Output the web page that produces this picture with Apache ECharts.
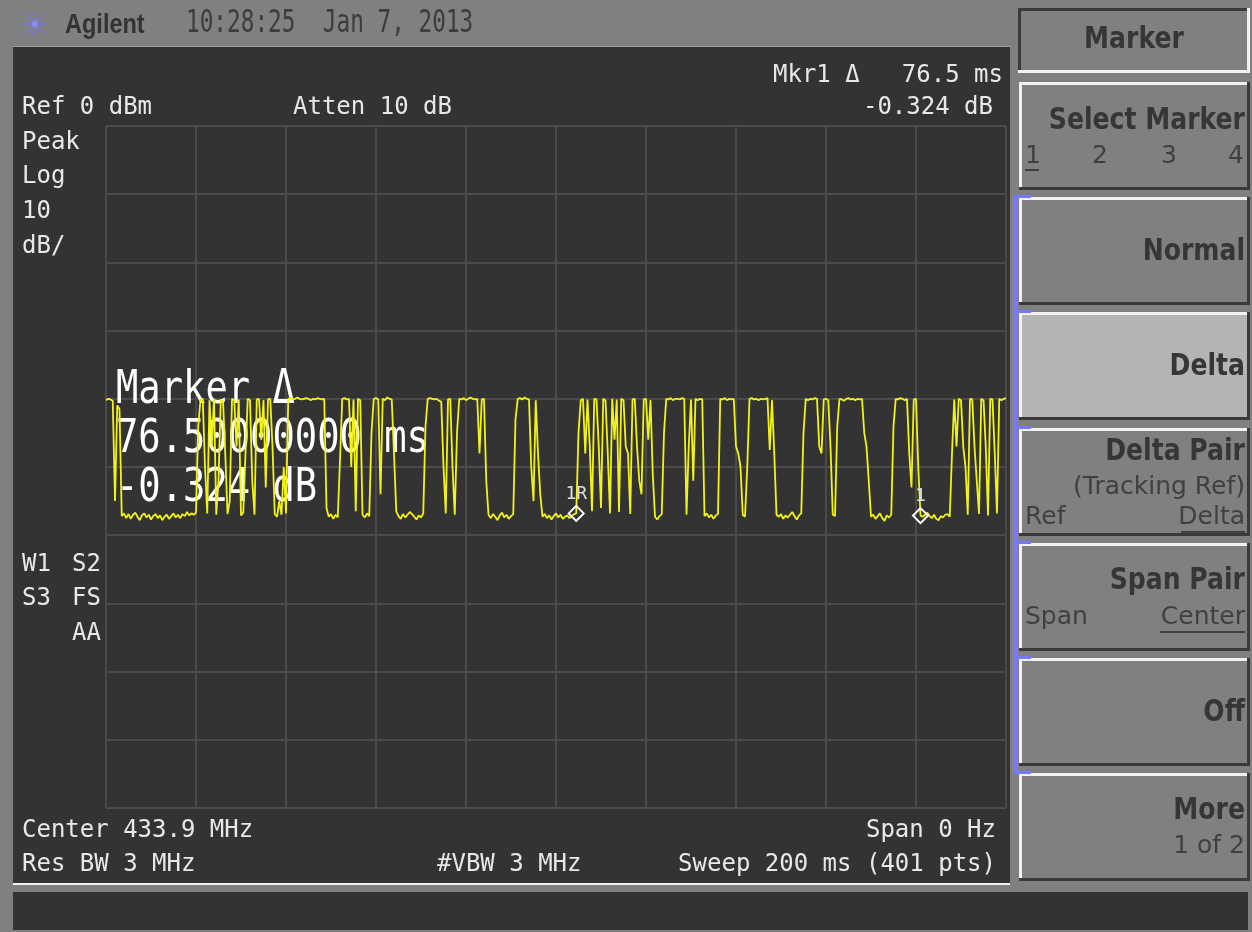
<!DOCTYPE html>
<html>
<head>
<meta charset="utf-8">
<title>Agilent zero-span sweep 433.9 MHz</title>
<script src="https://cdn.jsdelivr.net/npm/echarts@6/dist/echarts.min.js"></script>
<style>
  html, body { margin: 0; padding: 0; background: #808080; }
  #chart { width: 1252px; height: 932px; }
</style>
</head>
<body>
<div id="chart"></div>
<script>
// ---- Sweep settings ----
const sweepMs = 200;          // sweep time
const sweepPoints = 401;      // trace points
const refLevelDbm = 0;        // top graticule line
const dbPerDiv = 10;
const verticalDivs = 10;
const horizontalDivs = 10;

// ---- Trace amplitude at each sweep point (dBm) ----
const traceDbm = [
  -40.2, -40.0, -40.1, -40.3, -55.0, -41.0, -41.5,
  -57.2, -56.8, -57.5, -56.9, -57.6, -57.0, -56.7, -57.3, -57.8, -57.1, -56.8, -57.4, -57.0, -57.7, -57.2, -56.9, -57.5,
  -57.1, -57.8, -57.3, -57.0, -57.6, -57.2, -56.8, -57.4, -57.0, -57.5, -56.9, -57.2, -56.6, -57.1, -56.8, -57.0, -56.7,
  -44.0, -40.1, -40.0, -50.0, -56.8, -40.2, -47.0, -40.0, -57.0, -52.0, -40.1, -40.3, -48.0, -56.9, -55.0, -40.0, -40.2,
  -47.0, -40.1, -57.1, -56.7, -48.0, -40.0, -40.2, -52.0, -57.0, -40.1, -40.0, -46.0, -40.2, -53.0, -40.1, -40.0, -47.0,
  -56.9, -57.3, -55.0, -57.0, -50.0, -56.8,
  -40.0, -39.9, -40.1, -40.0, -39.8, -40.0, -40.1, -40.0, -39.9, -40.0, -40.2, -40.0, -40.1, -39.9, -40.0, -40.1, -40.0,
  -56.0, -57.3, -56.9, -57.6, -57.0, -57.4, -49.0, -40.0, -39.9, -40.1, -40.0,
  -50.0, -40.1, -56.5, -40.0, -40.2, -57.0, -57.4, -56.8, -57.2, -45.0, -40.0, -39.9, -40.1, -54.0,
  -40.0, -40.2, -39.8, -40.0, -40.1, -48.0, -56.5,
  -57.2, -57.6, -56.9, -57.4, -57.0, -56.6, -56.9, -57.3, -57.7, -57.1, -57.4, -56.8,
  -44.0, -40.0, -39.9, -40.0, -40.1, -40.0, -40.3, -40.4,
  -50.0, -56.8, -40.1, -40.0, -50.0, -57.0, -45.0,
  -40.0, -40.1, -39.9, -40.2, -40.0, -39.8, -40.0, -40.1, -40.0, -48.0, -40.1, -40.0, -52.0,
  -57.0, -57.5, -56.9, -57.3, -57.8, -57.1, -56.7, -57.4, -57.0, -57.6, -57.2, -56.9,
  -43.0, -40.0, -39.9, -40.1, -39.8, -40.0, -40.1, -50.0, -55.0, -40.2, -48.0, -54.0,
  -57.3, -56.9, -57.5, -57.1, -57.7, -57.2, -56.8, -57.4, -57.0, -57.6, -57.3, -57.1, -57.5, -57.2, -56.9,
  -56.8,
  -45.0, -40.2, -40.0, -48.0, -40.1, -47.0, -56.5, -40.0, -40.1, -47.0, -56.0, -40.0, -40.2, -48.0, -56.8, -40.0, -46.0,
  -40.1, -56.6, -40.0, -40.2, -47.0, -48.0, -56.9, -40.1, -40.0, -47.0, -52.0, -54.0, -40.1, -40.0, -46.0, -40.2, -51.0,
  -57.3, -57.7, -57.2, -56.9,
  -45.0, -40.0, -40.1, -39.9, -40.2, -40.0, -40.0, -40.1, -39.9, -40.0,
  -57.0, -47.0, -40.1, -52.0, -40.0, -40.2, -40.0, -40.1,
  -57.2, -56.8, -57.4, -57.0, -57.6, -57.1, -56.9,
  -40.0, -40.1, -39.9, -40.2, -40.0, -40.1, -40.0,
  -47.0, -48.0, -50.0, -57.0, -57.3, -50.0,
  -40.0, -39.9, -40.1, -40.0, -40.2, -40.0, -40.1, -40.0, -39.9,
  -47.5, -40.2, -48.0, -57.0,
  -57.3, -56.9, -57.6, -57.1, -57.4, -57.0, -56.6, -57.2, -57.7, -57.1, -56.8,
  -45.0, -40.0, -40.2, -40.0, -40.1, -39.9, -40.0, -47.0, -48.0, -40.1, -40.0, -40.2, -47.0, -57.0, -57.2, -44.0,
  -40.0, -40.1, -40.3, -40.0, -39.9, -40.1, -40.0, -40.2, -40.0, -40.1, -40.0,
  -45.0, -47.0, -52.0,
  -57.3, -57.0, -57.6, -57.2, -56.8, -57.5, -57.9, -57.1, -57.4, -57.0,
  -44.0, -40.0, -40.1, -39.9, -40.0, -40.2, -40.0, -48.0, -53.0, -40.1, -40.0, -50.0,
  -57.124,
  -57.3, -57.0, -56.7, -57.2, -57.5, -57.0, -57.6, -57.8, -57.2, -57.4, -57.0, -56.9, -57.3,
  -48.0, -40.1, -47.0, -40.0, -40.2, -47.0, -50.0, -57.0, -40.0, -40.1, -47.0, -52.0, -56.9, -40.0, -40.2, -47.0,
  -57.1, -40.0, -40.1, -48.0, -56.8, -40.0, -40.2, -40.0, -39.9
];

// ---- Marker 1 (delta mode): reference point and delta point ----
const refMarkerIndex = 209;
const deltaMarkerIndex = 362;
const markerLabels = ['1R', '1'];

// ---- Instrument annotation text ----
const brandName = 'Agilent';
const timestampText = '10:28:25  Jan 7, 2013';
const refLevelText = 'Ref 0 dBm';
const attenText = 'Atten 10 dB';
const scaleTexts = ['Peak', 'Log', '10', 'dB/'];
const statusLeft = ['W1', 'S3'];
const statusRight = ['S2', 'FS', 'AA'];
const centerText = 'Center 433.9 MHz';
const spanText = 'Span 0 Hz';
const rbwText = 'Res BW 3 MHz';
const vbwText = '#VBW 3 MHz';
const sweepText = 'Sweep 200 ms (401 pts)';

// ---- Softkey menu ----
const menuTitle = 'Marker';
const softkeyTitles = ['Select Marker', 'Normal', 'Delta', 'Delta Pair', 'Span Pair', 'Off', 'More'];
const selectedSoftkey = 2;

// time axis for every sweep point
const timeMs = traceDbm.map((_, i) => i * sweepMs / (sweepPoints - 1));
const traceData = traceDbm.map((v, i) => [timeMs[i], v]);

const deltaTimeMs = timeMs[deltaMarkerIndex] - timeMs[refMarkerIndex];
const deltaDb = traceDbm[deltaMarkerIndex] - traceDbm[refMarkerIndex];

const MONO = '"DejaVu Sans Mono", monospace';
const SANS = '"DejaVu Sans", sans-serif';
const SCREEN_TEXT = '#e8e8e8';
const KEY_TEXT = '#363636';
const SUB_TEXT = '#404040';

function txt(x, y, text, o) {
  o = o || {};
  const align = o.align || 'left';
  return {
    type: 'text', x: x, y: y, z: o.z != null ? o.z : 20, silent: true,
    scaleX: o.scaleX || 1,
    style: {
      text: text, fill: o.fill || SCREEN_TEXT, font: o.font || ('25px ' + MONO),
      align: align, textAlign: align,
      verticalAlign: 'middle', textVerticalAlign: 'middle'
    }
  };
}
// screen annotation font: slightly condensed monospace
function scr(x, y, text, align) {
  return txt(x, y, text, { align: align || 'left', scaleX: 0.96 });
}
function rect(x, y, w, h, fill, z) {
  return { type: 'rect', silent: true, z: z != null ? z : -10,
    shape: { x: x, y: y, width: w, height: h }, style: { fill: fill } };
}
function line(x1, y1, x2, y2, stroke, w, z, dash) {
  return { type: 'line', silent: true, z: z != null ? z : 20,
    shape: { x1: x1, y1: y1, x2: x2, y2: y2 },
    style: { stroke: stroke, lineWidth: w, lineDash: dash || null } };
}
// bevelled key: raised => light top/left, dark bottom/right
function bevel(x, y, w, h, face, raised) {
  const light = '#f2f2f2', dark = '#3a3a3a';
  return [
    rect(x, y, w, h, raised ? dark : light, -9),
    rect(x, y, w - 3, h - 3, raised ? light : dark, -8),
    rect(x + 3, y + 3, w - 6, h - 6, face, -7)
  ];
}

const g = [];
// frame and screen areas
g.push(rect(13, 47, 997, 836, '#333333', -10));
g.push(rect(13, 883, 997, 2, '#f0f0f0', -9));
g.push(rect(13, 892, 1235, 38, '#333333', -10));
g.push(rect(12, 46, 999, 1, '#9a9a9a', -9));

// logo starburst
const lcx = 35, lcy = 24;
for (let k = 0; k < 8; k++) {
  const a = k * Math.PI / 4;
  g.push(line(lcx + Math.cos(a) * 4, lcy + Math.sin(a) * 4, lcx + Math.cos(a) * 13, lcy + Math.sin(a) * 13,
    '#7676ff', 2, 20, [2, 2]));
}
g.push({ type: 'circle', silent: true, z: 20, shape: { cx: lcx, cy: lcy, r: 3 }, style: { fill: '#8a8aff' } });
g.push(txt(65, 25, brandName, { font: 'bold 28px "Liberation Sans", Arial, sans-serif', fill: '#333333', scaleX: 0.84 }));
g.push(txt(186, 24, timestampText, { font: '32px ' + MONO, fill: '#3c3c3c', scaleX: 0.71 }));

// screen annotations
g.push(scr(773, 75, 'Mkr1 \u0394'));
g.push(scr(1003, 75, deltaTimeMs.toFixed(1) + ' ms', 'right'));
g.push(scr(22, 107, refLevelText));
g.push(scr(293, 107, attenText));
g.push(scr(993, 107, deltaDb.toFixed(3) + ' dB', 'right'));
scaleTexts.forEach((t, i) => g.push(scr(22, 142 + i * 34.7, t)));
statusLeft.forEach((t, i) => g.push(scr(22, 564 + i * 34.5, t)));
statusRight.forEach((t, i) => g.push(scr(101, 564 + i * 34.5, t, 'right')));
g.push(scr(22, 830, centerText));
g.push(scr(996, 830, spanText, 'right'));
g.push(scr(22, 864, rbwText));
g.push(scr(437, 864, vbwText));
g.push(scr(996, 864, sweepText, 'right'));

// active marker readout
const bigFont = '47px ' + MONO;
g.push(txt(116, 391, 'Marker \u0394', { font: bigFont, scaleX: 0.79, fill: '#ffffff', z: 1 }));
g.push(txt(116, 440, deltaTimeMs.toFixed(8) + ' ms', { font: bigFont, scaleX: 0.79, fill: '#ffffff', z: 1 }));
g.push(txt(116, 489, deltaDb.toFixed(3) + ' dB', { font: bigFont, scaleX: 0.79, fill: '#ffffff', z: 1 }));

// softkey panel
bevel(1018, 8, 232, 65, '#808080', false).forEach(e => g.push(e));
g.push(txt(1134, 40, menuTitle, { font: 'bold 31px ' + SANS, fill: KEY_TEXT, align: 'center', scaleX: 0.81 }));
const keyTop = 82, keyStep = 115.2, keyH = 108;
const ky = k => Math.round(keyTop + k * keyStep);
softkeyTitles.forEach((t, k) => {
  bevel(1019, ky(k), 231, keyH, k === selectedSoftkey ? '#b4b4b4' : '#808080', true).forEach(e => g.push(e));
});
// blue bracket marking the keys that belong to this menu level
g.push(rect(1013, 195, 5, 576, '#7878ff', -6));
for (let k = 1; k <= 6; k++) {
  g.push(rect(1013, ky(k) - 2, 18, 3, '#7878ff', -6));
}
const keyFont = 'bold 31px ' + SANS;
const subFont = '25px ' + SANS;
const kx = 1245;
const key = (k, dy, t) => g.push(txt(kx, ky(k) + dy, t, { font: keyFont, fill: KEY_TEXT, align: 'right', scaleX: 0.81 }));
const sub = (x, y, t, align) => g.push(txt(x, y, t, { font: subFont, fill: SUB_TEXT, align: align || 'left' }));

key(0, 39, softkeyTitles[0]);
sub(1025, ky(0) + 74, '1');
sub(1100, ky(0) + 74, '2', 'center');
sub(1169, ky(0) + 74, '3', 'center');
sub(1244, ky(0) + 74, '4', 'right');
g.push(line(1025, ky(0) + 88, 1039, ky(0) + 88, SUB_TEXT, 2));
key(1, 55, softkeyTitles[1]);
key(2, 55, softkeyTitles[2]);
key(3, 24, softkeyTitles[3]);
sub(kx, ky(3) + 59, '(Tracking Ref)', 'right');
sub(1025, ky(3) + 89, 'Ref');
sub(kx, ky(3) + 89, 'Delta', 'right');
g.push(line(1181, ky(3) + 104, 1245, ky(3) + 104, SUB_TEXT, 2));
key(4, 38, softkeyTitles[4]);
sub(1025, ky(4) + 74, 'Span');
sub(kx, ky(4) + 74, 'Center', 'right');
g.push(line(1160, ky(4) + 89, 1245, ky(4) + 89, SUB_TEXT, 2));
key(5, 55, softkeyTitles[5]);
key(6, 38, softkeyTitles[6]);
sub(kx, ky(6) + 73, '1 of 2', 'right');

const gridLine = { show: true, lineStyle: { color: '#4b4b4b', width: 2 } };
const chart = echarts.init(document.getElementById('chart'), null, { renderer: 'canvas' });
chart.setOption({
  backgroundColor: '#808080',
  animation: false,
  grid: { left: 106, top: 126, width: 900, height: 682, show: false },
  xAxis: {
    type: 'value', min: 0, max: sweepMs, interval: sweepMs / horizontalDivs,
    axisLabel: { show: false }, axisTick: { show: false }, axisLine: { show: false },
    splitLine: gridLine
  },
  yAxis: {
    type: 'value', min: refLevelDbm - dbPerDiv * verticalDivs, max: refLevelDbm, interval: dbPerDiv,
    axisLabel: { show: false }, axisTick: { show: false }, axisLine: { show: false },
    splitLine: gridLine
  },
  graphic: { elements: g },
  series: [
    {
      type: 'line', data: traceData, showSymbol: false, symbol: 'none', z: 3,
      lineStyle: { color: '#f2f21a', width: 1.8 }, sampling: null, clip: true
    },
    {
      type: 'scatter', z: 5,
      data: [[timeMs[refMarkerIndex], traceDbm[refMarkerIndex]], [timeMs[deltaMarkerIndex], traceDbm[deltaMarkerIndex]]],
      symbol: 'diamond', symbolSize: [15, 15],
      itemStyle: { color: 'rgba(0,0,0,0)', borderColor: '#ffffff', borderWidth: 2, opacity: 1 },
      label: {
        show: true, position: 'top', distance: 2,
        formatter: p => markerLabels[p.dataIndex],
        color: '#e0e0e0', fontFamily: 'DejaVu Sans Mono', fontSize: 18
      }
    }
  ]
});
</script>
</body>
</html>
